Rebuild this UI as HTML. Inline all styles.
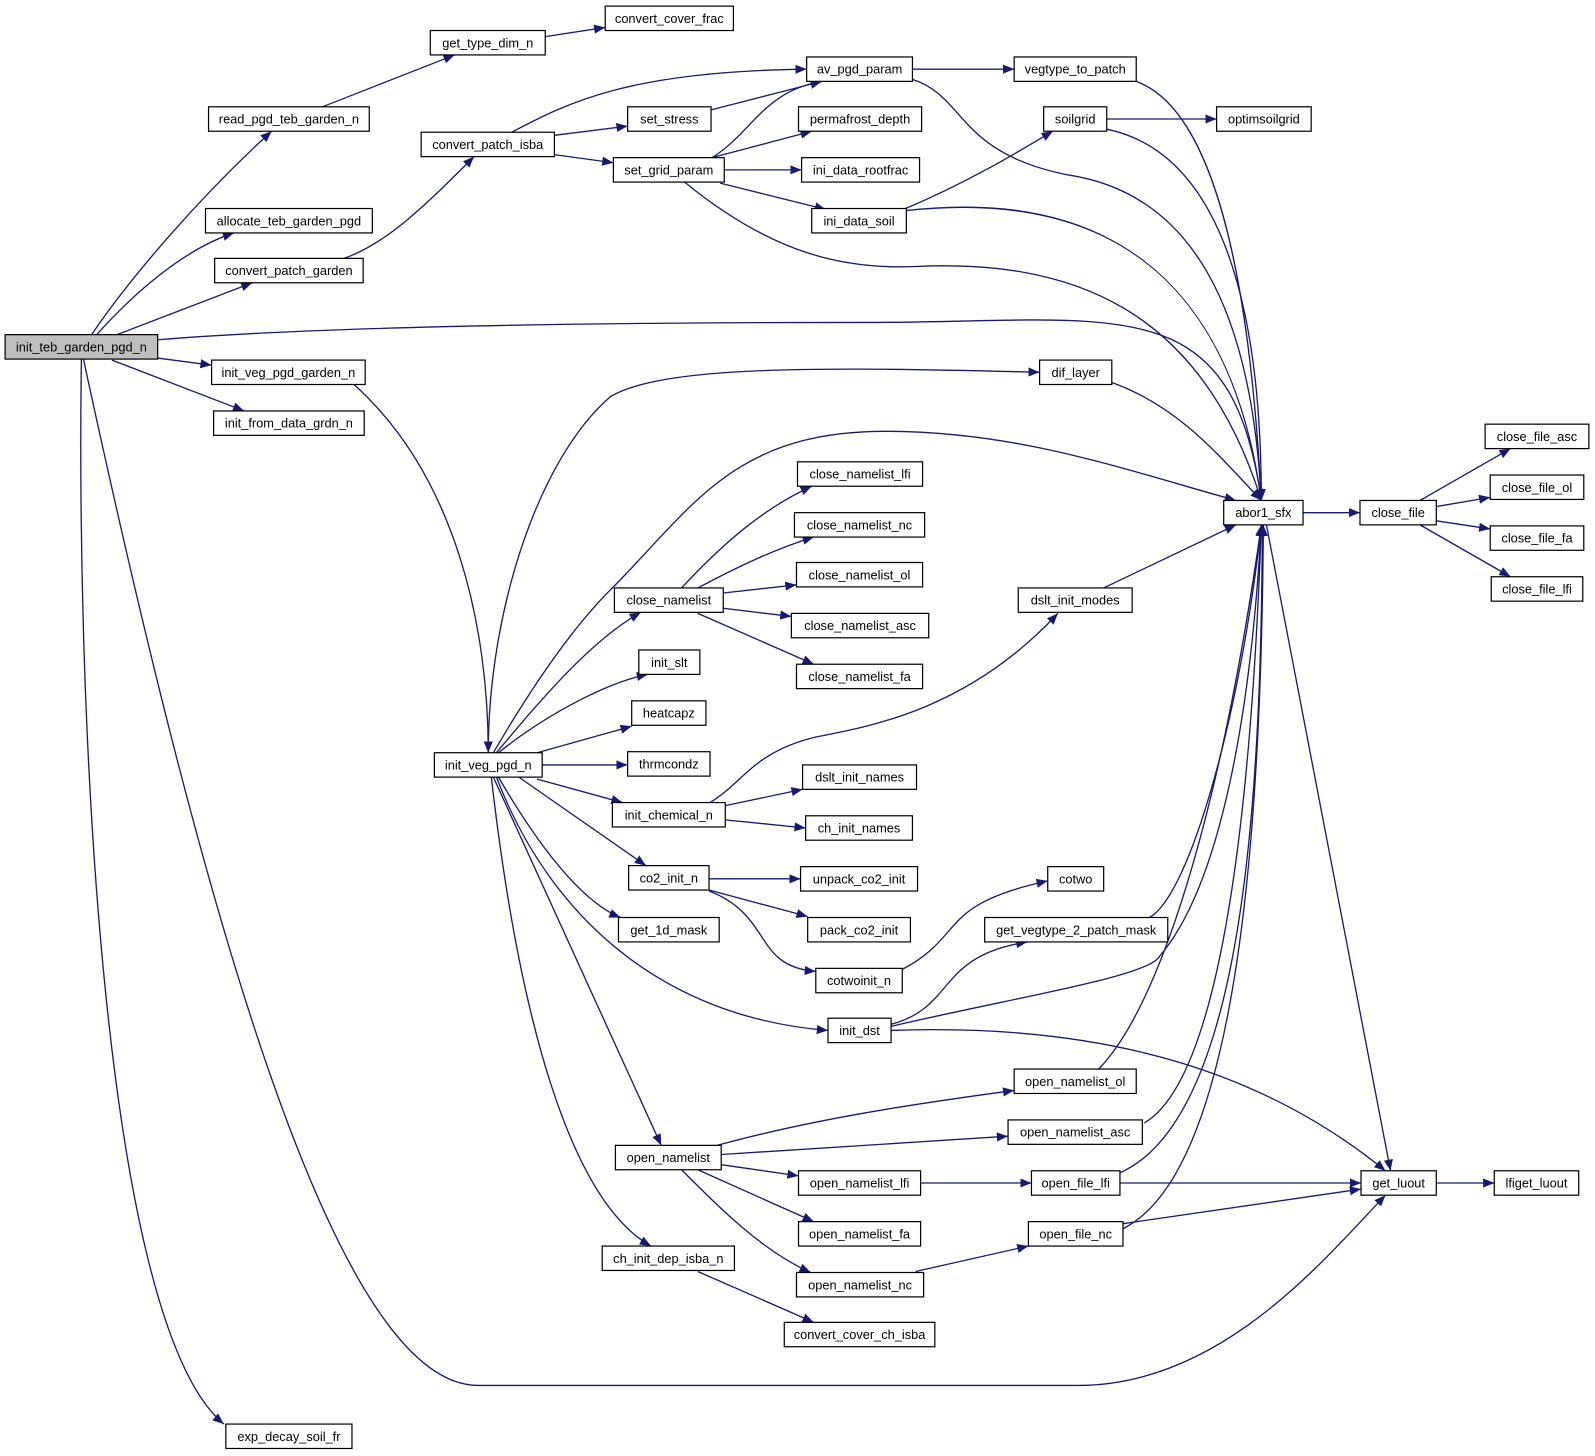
<!DOCTYPE html>
<html><head><meta charset="utf-8"><style>
html,body{margin:0;padding:0;background:#fff;}
svg{display:block;}
text{font-family:"Liberation Sans",Arial,sans-serif;font-size:12.6px;fill:#000;text-anchor:middle;}
.e{fill:none;stroke:#191970;stroke-width:1.3;marker-end:url(#a);}
.n{fill:#fff;stroke:#000;stroke-width:1.2;}
</style></head><body>
<svg width="1595" height="1456" viewBox="0 0 1568 1431.4" xmlns="http://www.w3.org/2000/svg">
<defs><marker id="a" markerUnits="userSpaceOnUse" markerWidth="12" markerHeight="10" refX="11" refY="4.5" orient="auto"><path d="M0,0 L11,4.5 L0,9 z" fill="#191970"/></marker></defs>
<g>
<path class="e" d="M90,329 C130,270 200,190 267,129"/>
<path class="e" d="M95,329 C130,290 180,245 230,229"/>
<path class="e" d="M115,329 L248,278"/>
<path class="e" d="M155,334 C350,318 700,317 850,317 C1100,317 1210,280 1240,492"/>
<path class="e" d="M155,352 L208,359"/>
<path class="e" d="M110,354 L240,404"/>
<path class="e" d="M80,353 C75,700 100,1300 220,1400"/>
<path class="e" d="M82,353 C200,900 330,1362 470,1362 L1060,1362 C1200,1362 1300,1240 1362,1175"/>
<path class="e" d="M317,105 L447,54"/>
<path class="e" d="M536,36 L595,27"/>
<path class="e" d="M338,254 C380,240 420,200 466,154"/>
<path class="e" d="M503,130 C560,100 620,70 793,68"/>
<path class="e" d="M545,133 L617,124"/>
<path class="e" d="M545,152 L603,160"/>
<path class="e" d="M699,108 L808,80"/>
<path class="e" d="M700,155 C740,130 750,90 808,80"/>
<path class="e" d="M700,155 L798,129"/>
<path class="e" d="M712,167 L788,167"/>
<path class="e" d="M708,180 L812,206"/>
<path class="e" d="M673,179 C760,250 830,265 900,262 C1050,255 1180,300 1240,492"/>
<path class="e" d="M897,68 L997,68"/>
<path class="e" d="M897,78 C950,95 940,150 1050,172 C1170,190 1230,300 1240,492"/>
<path class="e" d="M1117,80 C1200,110 1230,300 1240,492"/>
<path class="e" d="M888,206 C950,180 1000,150 1035,129"/>
<path class="e" d="M891,207 C1000,195 1200,200 1240,492"/>
<path class="e" d="M1088,117 L1196,117"/>
<path class="e" d="M1088,127 C1200,150 1240,300 1240,492"/>
<path class="e" d="M348,378 C450,470 480,620 480,740"/>
<path class="e" d="M480,740 C480,600 530,450 600,390 C650,360 800,360 1022,366"/>
<path class="e" d="M1093,376 C1160,400 1200,450 1240,492"/>
<path class="e" d="M485,740 C520,680 560,620 600,580 C680,500 720,424 870,424 C1000,424 1100,460 1215,492"/>
<path class="e" d="M488,740 C530,690 580,630 630,602"/>
<path class="e" d="M490,740 C540,700 600,670 637,663"/>
<path class="e" d="M528,740 L621,714"/>
<path class="e" d="M533,752 L617,752"/>
<path class="e" d="M528,766 L612,789"/>
<path class="e" d="M510,764 L635,851"/>
<path class="e" d="M490,764 C540,850 580,890 610,902"/>
<path class="e" d="M488,764 C540,900 650,1000 814,1013"/>
<path class="e" d="M485,764 L650,1126"/>
<path class="e" d="M483,764 C510,1000 560,1180 640,1225"/>
<path class="e" d="M670,578 C710,535 750,500 798,478"/>
<path class="e" d="M686,578 C720,560 760,540 800,528"/>
<path class="e" d="M711,583 L783,575"/>
<path class="e" d="M711,598 L778,606"/>
<path class="e" d="M686,603 L800,653"/>
<path class="e" d="M698,789 C730,770 740,740 800,725 C850,715 950,700 1040,603"/>
<path class="e" d="M1085,578 L1215,516"/>
<path class="e" d="M713,792 L789,776"/>
<path class="e" d="M713,806 L792,814"/>
<path class="e" d="M697,864 L787,864"/>
<path class="e" d="M697,875 L794,901"/>
<path class="e" d="M697,876 C760,900 740,950 802,955"/>
<path class="e" d="M887,953 C950,920 920,890 1030,866"/>
<path class="e" d="M876,1007 C940,990 920,940 1010,926"/>
<path class="e" d="M876,1009 C1000,980 1130,960 1140,940 C1200,870 1230,700 1240,516"/>
<path class="e" d="M1130,902 C1170,880 1220,700 1240,516"/>
<path class="e" d="M876,1013 C1100,1005 1250,1060 1362,1151"/>
<path class="e" d="M705,1126 C800,1100 900,1085 997,1072"/>
<path class="e" d="M709,1135 L991,1117"/>
<path class="e" d="M709,1145 L785,1156"/>
<path class="e" d="M686,1150 L800,1201"/>
<path class="e" d="M670,1150 C710,1190 750,1230 797,1251"/>
<path class="e" d="M1080,1051 C1140,990 1200,800 1240,516"/>
<path class="e" d="M1125,1104 C1200,1060 1230,800 1240,516"/>
<path class="e" d="M905,1163 L1014,1163"/>
<path class="e" d="M1101,1163 L1338,1163"/>
<path class="e" d="M1101,1153 C1220,1100 1240,800 1241,516"/>
<path class="e" d="M900,1250 L1011,1225"/>
<path class="e" d="M1104,1203 L1338,1169"/>
<path class="e" d="M1104,1208 C1220,1150 1240,800 1242,516"/>
<path class="e" d="M686,1250 L800,1300"/>
<path class="e" d="M1281,504 L1337,504"/>
<path class="e" d="M1245,516 L1367,1151"/>
<path class="e" d="M1396,492 L1485,441"/>
<path class="e" d="M1412,498 L1465,489"/>
<path class="e" d="M1412,512 L1465,520"/>
<path class="e" d="M1396,516 L1485,567"/>
<path class="e" d="M1412,1163 L1469,1163"/>
</g>
<g>
<rect x="5" y="329" width="150" height="24" fill="#bfbfbf" stroke="#000" stroke-width="1.2"/><text x="80" y="345.5">init_teb_garden_pgd_n</text>
<rect class="n" x="205" y="105" width="158" height="24"/><text x="284" y="121.5">read_pgd_teb_garden_n</text>
<rect class="n" x="202" y="205" width="164" height="24"/><text x="284" y="221.5">allocate_teb_garden_pgd</text>
<rect class="n" x="211" y="254" width="146" height="24"/><text x="284" y="270.5">convert_patch_garden</text>
<rect class="n" x="208" y="354" width="151" height="24"/><text x="283.5" y="370.5">init_veg_pgd_garden_n</text>
<rect class="n" x="210" y="404" width="148" height="24"/><text x="284" y="420.5">init_from_data_grdn_n</text>
<rect class="n" x="222" y="1400" width="124" height="24"/><text x="284" y="1416.5">exp_decay_soil_fr</text>
<rect class="n" x="423" y="30" width="113" height="24"/><text x="479.5" y="46.5">get_type_dim_n</text>
<rect class="n" x="595" y="6" width="126" height="24"/><text x="658" y="22.5">convert_cover_frac</text>
<rect class="n" x="414" y="130" width="131" height="24"/><text x="479.5" y="146.5">convert_patch_isba</text>
<rect class="n" x="617" y="105" width="82" height="24"/><text x="658" y="121.5">set_stress</text>
<rect class="n" x="603" y="155" width="109" height="24"/><text x="657.5" y="171.5">set_grid_param</text>
<rect class="n" x="793" y="56" width="104" height="24"/><text x="845" y="72.5">av_pgd_param</text>
<rect class="n" x="785" y="105" width="121" height="24"/><text x="845.5" y="121.5">permafrost_depth</text>
<rect class="n" x="788" y="155" width="116" height="24"/><text x="846" y="171.5">ini_data_rootfrac</text>
<rect class="n" x="798" y="205" width="93" height="24"/><text x="844.5" y="221.5">ini_data_soil</text>
<rect class="n" x="997" y="56" width="120" height="24"/><text x="1057" y="72.5">vegtype_to_patch</text>
<rect class="n" x="1026" y="105" width="62" height="24"/><text x="1057" y="121.5">soilgrid</text>
<rect class="n" x="1196" y="105" width="93" height="24"/><text x="1242.5" y="121.5">optimsoilgrid</text>
<rect class="n" x="1022" y="354" width="71" height="24"/><text x="1057.5" y="370.5">dif_layer</text>
<rect class="n" x="1203" y="492" width="78" height="24"/><text x="1242" y="508.5">abor1_sfx</text>
<rect class="n" x="1337" y="492" width="75" height="24"/><text x="1374.5" y="508.5">close_file</text>
<rect class="n" x="1460" y="417" width="102" height="24"/><text x="1511" y="433.5">close_file_asc</text>
<rect class="n" x="1465" y="467" width="92" height="24"/><text x="1511" y="483.5">close_file_ol</text>
<rect class="n" x="1465" y="517" width="92" height="24"/><text x="1511" y="533.5">close_file_fa</text>
<rect class="n" x="1466" y="567" width="90" height="24"/><text x="1511" y="583.5">close_file_lfi</text>
<rect class="n" x="784" y="454" width="123" height="24"/><text x="845.5" y="470.5">close_namelist_lfi</text>
<rect class="n" x="781" y="504" width="128" height="24"/><text x="845" y="520.5">close_namelist_nc</text>
<rect class="n" x="783" y="553" width="124" height="24"/><text x="845" y="569.5">close_namelist_ol</text>
<rect class="n" x="778" y="603" width="135" height="24"/><text x="845.5" y="619.5">close_namelist_asc</text>
<rect class="n" x="783" y="653" width="124" height="24"/><text x="845" y="669.5">close_namelist_fa</text>
<rect class="n" x="604" y="578" width="107" height="24"/><text x="657.5" y="594.5">close_namelist</text>
<rect class="n" x="1001" y="578" width="112" height="24"/><text x="1057" y="594.5">dslt_init_modes</text>
<rect class="n" x="628" y="639" width="60" height="24"/><text x="658" y="655.5">init_slt</text>
<rect class="n" x="621" y="689" width="73" height="24"/><text x="657.5" y="705.5">heatcapz</text>
<rect class="n" x="617" y="739" width="81" height="24"/><text x="657.5" y="755.5">thrmcondz</text>
<rect class="n" x="427" y="740" width="106" height="24"/><text x="480" y="756.5">init_veg_pgd_n</text>
<rect class="n" x="602" y="789" width="111" height="24"/><text x="657.5" y="805.5">init_chemical_n</text>
<rect class="n" x="789" y="752" width="112" height="24"/><text x="845" y="768.5">dslt_init_names</text>
<rect class="n" x="792" y="802" width="105" height="24"/><text x="844.5" y="818.5">ch_init_names</text>
<rect class="n" x="618" y="851" width="79" height="24"/><text x="657.5" y="867.5">co2_init_n</text>
<rect class="n" x="787" y="852" width="115" height="24"/><text x="844.5" y="868.5">unpack_co2_init</text>
<rect class="n" x="794" y="902" width="101" height="24"/><text x="844.5" y="918.5">pack_co2_init</text>
<rect class="n" x="608" y="902" width="99" height="24"/><text x="657.5" y="918.5">get_1d_mask</text>
<rect class="n" x="1030" y="852" width="55" height="24"/><text x="1057.5" y="868.5">cotwo</text>
<rect class="n" x="968" y="902" width="180" height="24"/><text x="1058" y="918.5">get_vegtype_2_patch_mask</text>
<rect class="n" x="802" y="952" width="85" height="24"/><text x="844.5" y="968.5">cotwoinit_n</text>
<rect class="n" x="814" y="1001" width="62" height="24"/><text x="845" y="1017.5">init_dst</text>
<rect class="n" x="997" y="1051" width="120" height="24"/><text x="1057" y="1067.5">open_namelist_ol</text>
<rect class="n" x="991" y="1101" width="132" height="24"/><text x="1057" y="1117.5">open_namelist_asc</text>
<rect class="n" x="605" y="1126" width="104" height="24"/><text x="657" y="1142.5">open_namelist</text>
<rect class="n" x="785" y="1151" width="120" height="24"/><text x="845" y="1167.5">open_namelist_lfi</text>
<rect class="n" x="1014" y="1151" width="87" height="24"/><text x="1057.5" y="1167.5">open_file_lfi</text>
<rect class="n" x="1338" y="1151" width="74" height="24"/><text x="1375" y="1167.5">get_luout</text>
<rect class="n" x="1469" y="1151" width="83" height="24"/><text x="1510.5" y="1167.5">lfiget_luout</text>
<rect class="n" x="785" y="1201" width="120" height="24"/><text x="845" y="1217.5">open_namelist_fa</text>
<rect class="n" x="1011" y="1201" width="93" height="24"/><text x="1057.5" y="1217.5">open_file_nc</text>
<rect class="n" x="592" y="1225" width="130" height="24"/><text x="657" y="1241.5">ch_init_dep_isba_n</text>
<rect class="n" x="783" y="1251" width="125" height="24"/><text x="845.5" y="1267.5">open_namelist_nc</text>
<rect class="n" x="771" y="1300" width="148" height="24"/><text x="845" y="1316.5">convert_cover_ch_isba</text>
</g>
</svg>
</body></html>
